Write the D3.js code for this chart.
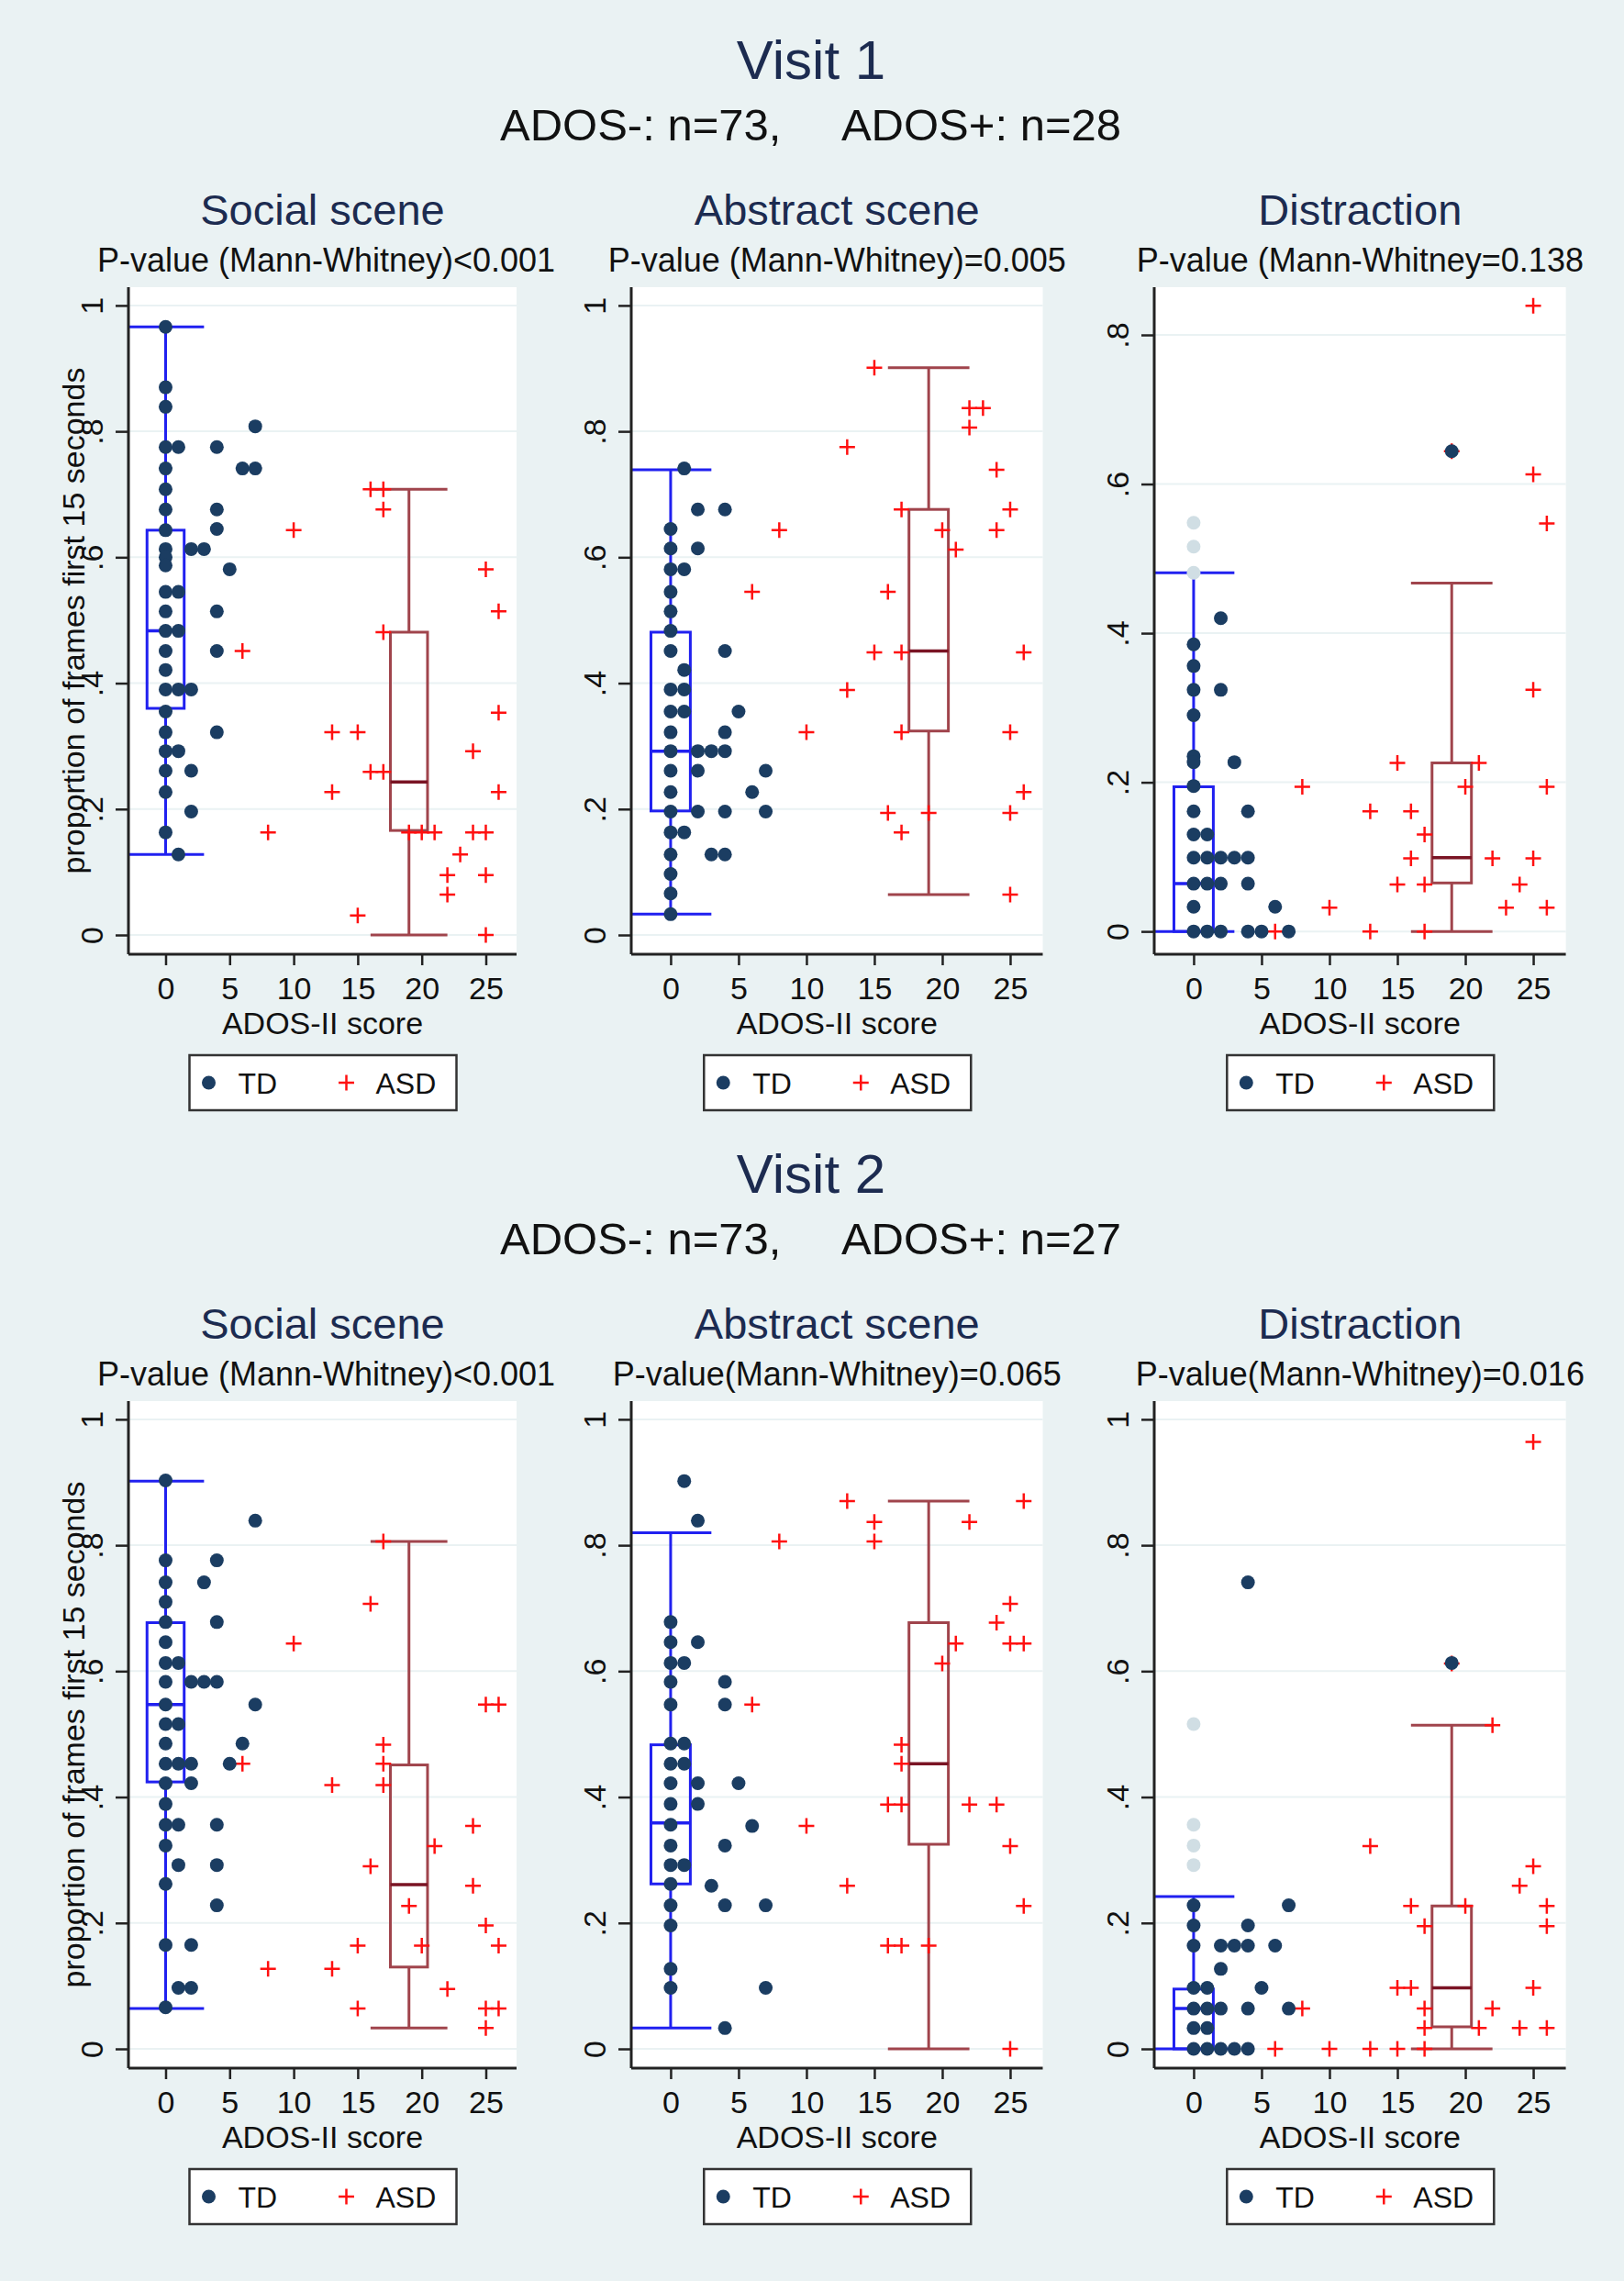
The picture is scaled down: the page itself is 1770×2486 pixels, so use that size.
<!DOCTYPE html>
<html>
<head>
<meta charset="utf-8">
<script src="https://cdn.jsdelivr.net/npm/d3@7"></script>
<style>
  body { margin: 0; background: #eaf2f3; }
  text { font-family: "Liberation Sans", Arial, sans-serif; }
</style>
</head>
<body>
<svg id="chart"></svg>
<script>
// ---- data ----
const visitTitles = ["Visit 1", "Visit 2"];
const groupCounts = [["ADOS-: n=73,", "ADOS+: n=28"], ["ADOS-: n=73,", "ADOS+: n=27"]];
const sceneTitles = ["Social scene", "Abstract scene", "Distraction"];
const pValueLabels = [
  ["P-value (Mann-Whitney)<0.001", "P-value (Mann-Whitney)=0.005", "P-value (Mann-Whitney=0.138"],
  ["P-value (Mann-Whitney)<0.001", "P-value(Mann-Whitney)=0.065", "P-value(Mann-Whitney)=0.016"]
];
const xTitle = "ADOS-II score";
const yTitle = "proportion of frames first 15 seconds";
const legendLabels = ["TD", "ASD"];
const xTicks = [0, 5, 10, 15, 20, 25];
const yTicks = [
  [[0, .2, .4, .6, .8, 1], [0, .2, .4, .6, .8, 1], [0, .2, .4, .6, .8]],
  [[0, .2, .4, .6, .8, 1], [0, .2, .4, .6, .8, 1], [0, .2, .4, .6, .8, 1]]
];
const yMax = [[1.029, 1.029, 0.864], [1.029, 1.029, 1.029]];

// box positions on the ADOS axis: TD, ASD
const boxCenters = [0, 19];
// [lower whisker, q1, median, q3, upper whisker] per scene
const tdBoxV1 = [[0.128, 0.360, 0.483, 0.643, 0.966], [0.033, 0.197, 0.292, 0.481, 0.739], [0, 0, 0.064, 0.194, 0.481]];
const asdBoxV1 = [[0, 0.166, 0.243, 0.481, 0.708], [0.064, 0.324, 0.451, 0.676, 0.901], [0, 0.065, 0.099, 0.226, 0.467]];
const tdBoxV2 = [[0.064, 0.424, 0.547, 0.677, 0.902], [0.033, 0.262, 0.359, 0.483, 0.820], [0, 0, 0.064, 0.095, 0.242]];
const asdBoxV2 = [[0.033, 0.130, 0.261, 0.451, 0.806], [0, 0.325, 0.453, 0.677, 0.870], [0, 0.035, 0.097, 0.227, 0.514]];

// TD points grouped by ADOS score: [score, [proportions]]
const tdV1Social = [
  [0, [.966, .870, .839, .775, .741, .708, .676, .643, .613, .600, .587, .545, .514, .483, .451, .421, .390, .355, .322, .292, .261, .227, .163]],
  [1, [.775, .545, .483, .390, .292, .128]],
  [2, [.613, .390, .261, .196]],
  [3, [.613]],
  [4, [.775, .676, .645, .514, .451, .322]],
  [5, [.581]],
  [6, [.741]],
  [7, [.808, .741]]
];
const tdV1Abstract = [
  [0, [.645, .614, .581, .545, .514, .483, .451, .390, .355, .322, .292, .261, .227, .196, .163, .128, .097, .066, .033]],
  [1, [.741, .581, .421, .390, .355, .163]],
  [2, [.676, .614, .292, .261, .196]],
  [3, [.292, .128]],
  [4, [.676, .451, .322, .292, .196, .128]],
  [5, [.355]],
  [6, [.227]],
  [7, [.261, .196]]
];
const tdV1Distraction = [
  [0, [.385, .356, .324, .290, .235, .227, .195, .161, .130, .099, .064, .033, 0]],
  [1, [.130, .099, .064, 0]],
  [2, [.420, .324, .099, .064, 0]],
  [3, [.227, .099]],
  [4, [.161, .099, .064, 0]],
  [5, [0]],
  [6, [.033]],
  [7, [0]],
  [19, [.644]]
];
const tdV2Social = [
  [0, [.903, .776, .741, .710, .678, .646, .613, .583, .547, .516, .485, .453, .422, .389, .356, .323, .262, .165, .066]],
  [1, [.613, .516, .453, .356, .292, .097]],
  [2, [.583, .453, .422, .165, .097]],
  [3, [.741, .583]],
  [4, [.776, .678, .583, .356, .292, .228]],
  [5, [.453]],
  [6, [.485]],
  [7, [.839, .547]]
];
const tdV2Abstract = [
  [0, [.678, .646, .613, .583, .547, .485, .453, .422, .389, .356, .323, .292, .262, .228, .196, .127, .097]],
  [1, [.902, .613, .485, .453, .292]],
  [2, [.839, .646, .422, .389]],
  [3, [.259]],
  [4, [.583, .547, .323, .228, .033]],
  [5, [.422]],
  [6, [.354]],
  [7, [.228, .097]]
];
const tdV2Distraction = [
  [0, [.228, .196, .164, .097, .064, .033, 0]],
  [1, [.097, .064, .033, 0]],
  [2, [.164, .127, .064, 0]],
  [3, [.164, 0]],
  [4, [.741, .196, .164, .064, 0]],
  [5, [.097]],
  [6, [.164]],
  [7, [.228, .064]],
  [19, [.613]]
];
// faint TD points drawn at ADOS 0 in the distraction panels
const faintV1Distraction = [[0, [.548, .516, .481]]];
const faintV2Distraction = [[0, [.516, .356, .323, .292]]];

// ASD points: [score, proportion]
const asdV1Social = [[16, .708], [17, .708], [17, .676], [10, .643], [25, .581], [26, .514], [17, .481], [6, .451], [26, .353],
  [13, .322], [15, .322], [24, .292], [16, .259], [17, .259], [13, .227], [26, .227], [8, .163], [19, .163], [20, .163],
  [21, .163], [24, .163], [25, .163], [23, .128], [22, .095], [25, .095], [22, .064], [15, .031], [25, 0]];
const asdV1Abstract = [[15, .901], [22, .837], [23, .837], [22, .806], [13, .775], [24, .739], [17, .676], [25, .676], [8, .643],
  [20, .643], [24, .643], [21, .612], [6, .545], [16, .545], [15, .449], [17, .449], [26, .449], [13, .389], [10, .322],
  [17, .322], [25, .322], [26, .227], [16, .194], [19, .194], [25, .194], [17, .163], [25, .064]];
const asdV1Distraction = [[25, .839], [25, .613], [26, .547], [25, .324], [15, .226], [21, .226], [8, .194], [20, .194], [26, .194],
  [13, .161], [16, .161], [17, .130], [16, .098], [22, .098], [25, .098], [15, .063], [17, .063], [24, .063], [10, .032],
  [23, .032], [26, .032], [6, 0], [13, 0], [17, 0], [19, .644]];
const asdV2Social = [[17, .806], [16, .707], [10, .644], [25, .547], [26, .547], [17, .483], [6, .453], [17, .453], [13, .419],
  [17, .419], [24, .354], [21, .322], [16, .290], [24, .259], [19, .227], [25, .196], [15, .164], [20, .164], [26, .164],
  [8, .127], [13, .127], [22, .095], [15, .064], [25, .064], [26, .064], [25, .033]];
const asdV2Abstract = [[13, .870], [26, .870], [15, .837], [22, .837], [8, .806], [15, .806], [25, .707], [24, .677], [21, .644],
  [25, .644], [26, .644], [20, .612], [6, .547], [17, .483], [17, .453], [16, .388], [17, .388], [22, .388], [24, .388],
  [10, .354], [25, .322], [13, .259], [26, .227], [16, .164], [17, .164], [19, .164], [25, 0]];
const asdV2Distraction = [[25, .964], [19, .612], [22, .514], [13, .322], [25, .290], [24, .259], [16, .227], [20, .227], [26, .227],
  [17, .195], [26, .195], [15, .097], [16, .097], [25, .097], [8, .064], [17, .064], [22, .064], [17, .033], [21, .033],
  [24, .033], [26, .033], [6, 0], [10, 0], [13, 0], [15, 0], [17, 0]];

const tdPoints = [[tdV1Social, tdV1Abstract, tdV1Distraction], [tdV2Social, tdV2Abstract, tdV2Distraction]];
const faintPoints = [[[], [], faintV1Distraction], [[], [], faintV2Distraction]];
const asdPoints = [[asdV1Social, asdV1Abstract, asdV1Distraction], [asdV2Social, asdV2Abstract, asdV2Distraction]];
const tdBoxes = [tdBoxV1, tdBoxV2];
const asdBoxes = [asdBoxV1, asdBoxV2];

// ---- layout ----
const W = 1770, H = 2486;
const visitOffset = [0, 1214];
const panels = [{ left: 140, right: 563 }, { left: 688, right: 1136.5 }, { left: 1258, right: 1706.6 }];
const plotTop = 313, plotBottom = 1040;
const xDomain = [-2.9, 27.4];
const yMin = -0.0306;
const boxHalf = 1.45, capHalf = 3;

const navy = "#1b3d62", red = "#ff1010", titleColor = "#1c2b50", ink = "#111";
const tdBoxColor = "#2020f0", asdBoxColor = "#a0444c", asdMedian = "#7a1424";

const svg = d3.select("#chart").attr("width", W).attr("height", H);
svg.append("rect").attr("width", W).attr("height", H).attr("fill", "#eaf2f3");

const fmt = d => d === 0 ? "0" : d === 1 ? "1" : d3.format(".1f")(d).replace(/^0/, "");

visitTitles.forEach((vt, vi) => {
  const g = svg.append("g").attr("transform", `translate(0,${visitOffset[vi]})`);

  // Visit title and group counts
  g.append("text").attr("x", 884).attr("y", 86).attr("text-anchor", "middle")
    .attr("font-size", 60).attr("fill", titleColor).text(vt);
  g.append("text").attr("x", 545).attr("y", 153).attr("font-size", 49).attr("fill", ink).text(groupCounts[vi][0]);
  g.append("text").attr("x", 1222).attr("y", 153).attr("text-anchor", "end")
    .attr("font-size", 49).attr("fill", ink).text(groupCounts[vi][1]);

  sceneTitles.forEach((st, si) => {
    const p = panels[si];
    const cx = (p.left + p.right) / 2;
    const x = d3.scaleLinear().domain(xDomain).range([p.left, p.right]);
    const y = d3.scaleLinear().domain([yMin, yMax[vi][si]]).range([plotBottom, plotTop]);
    const pg = g.append("g");

    // titles
    pg.append("text").attr("x", cx).attr("y", 245).attr("text-anchor", "middle")
      .attr("font-size", 47).attr("fill", titleColor).text(st);
    pg.append("text").attr("x", cx + (si === 0 ? 4 : 0)).attr("y", 296).attr("text-anchor", "middle")
      .attr("font-size", 36).attr("fill", ink).text(pValueLabels[vi][si]);

    // plot region
    pg.append("rect").attr("x", p.left).attr("y", plotTop)
      .attr("width", p.right - p.left).attr("height", plotBottom - plotTop).attr("fill", "#fff");

    const clipId = `clip-${vi}-${si}`;
    pg.append("clipPath").attr("id", clipId).append("rect")
      .attr("x", p.left).attr("y", plotTop).attr("width", p.right - p.left).attr("height", plotBottom - plotTop);

    // gridlines
    pg.append("g").selectAll("line").data(yTicks[vi][si]).enter().append("line")
      .attr("x1", p.left).attr("x2", p.right).attr("y1", d => y(d)).attr("y2", d => y(d))
      .attr("stroke", "#eaf2f3").attr("stroke-width", 2);

    const inner = pg.append("g").attr("clip-path", `url(#${clipId})`);

    // box plots
    const boxes = [
      { c: boxCenters[0], s: tdBoxes[vi][si], col: tdBoxColor, med: tdBoxColor },
      { c: boxCenters[1], s: asdBoxes[vi][si], col: asdBoxColor, med: asdMedian }
    ];
    boxes.forEach(b => {
      const [lo, q1, md, q3, hi] = b.s;
      const bg = inner.append("g").attr("stroke", b.col).attr("stroke-width", 3).attr("fill", "none");
      bg.append("line").attr("x1", x(b.c)).attr("x2", x(b.c)).attr("y1", y(hi)).attr("y2", y(q3));
      bg.append("line").attr("x1", x(b.c)).attr("x2", x(b.c)).attr("y1", y(q1)).attr("y2", y(lo));
      bg.append("line").attr("x1", x(b.c - capHalf)).attr("x2", x(b.c + capHalf)).attr("y1", y(hi)).attr("y2", y(hi));
      bg.append("line").attr("x1", x(b.c - capHalf)).attr("x2", x(b.c + capHalf)).attr("y1", y(lo)).attr("y2", y(lo));
      bg.append("rect").attr("x", x(b.c - boxHalf)).attr("y", y(q3))
        .attr("width", x(b.c + boxHalf) - x(b.c - boxHalf)).attr("height", y(q1) - y(q3));
      bg.append("line").attr("x1", x(b.c - boxHalf)).attr("x2", x(b.c + boxHalf))
        .attr("y1", y(md)).attr("y2", y(md)).attr("stroke", b.med).attr("stroke-width", 3.5);
    });

    // ASD markers
    inner.append("g").selectAll("path").data(asdPoints[vi][si]).enter().append("path")
      .attr("d", d => `M${x(d[0]) - 8.5},${y(d[1])}H${x(d[0]) + 8.5}M${x(d[0])},${y(d[1]) - 8.5}V${y(d[1]) + 8.5}`)
      .attr("stroke", red).attr("stroke-width", 2.5).attr("fill", "none");

    // TD markers
    const flat = arr => arr.flatMap(([s, vals]) => vals.map(v => [s, v]));
    inner.append("g").selectAll("circle").data(flat(tdPoints[vi][si])).enter().append("circle")
      .attr("cx", d => x(d[0])).attr("cy", d => y(d[1])).attr("r", 7.5).attr("fill", navy);
    inner.append("g").selectAll("circle").data(flat(faintPoints[vi][si])).enter().append("circle")
      .attr("cx", d => x(d[0])).attr("cy", d => y(d[1])).attr("r", 7.5).attr("fill", "#d0dee4");

    // axes
    const xAxis = pg.append("g").attr("transform", `translate(0,${plotBottom})`)
      .call(d3.axisBottom(x).tickValues(xTicks).tickSize(12).tickSizeOuter(0).tickPadding(13));
    xAxis.selectAll("text").attr("font-size", 34).attr("fill", ink)
      .attr("font-family", "Liberation Sans, Arial, sans-serif");

    const yAxis = pg.append("g").attr("transform", `translate(${p.left},0)`)
      .call(d3.axisLeft(y).tickValues(yTicks[vi][si]).tickFormat(fmt).tickSize(14).tickSizeOuter(0));
    yAxis.selectAll("text").attr("x", 0).attr("dy", 0).attr("text-anchor", "middle")
      .attr("transform", "translate(-28,0) rotate(-90)")
      .attr("font-size", 34).attr("fill", ink).attr("font-family", "Liberation Sans, Arial, sans-serif");

    [xAxis, yAxis].forEach(a => {
      a.select(".domain").attr("stroke", "#222").attr("stroke-width", 3);
      a.selectAll(".tick line").attr("stroke", "#222").attr("stroke-width", 2.5);
    });
    // keep the axis line running to the plot edges
    xAxis.select(".domain").attr("d", `M${p.left},0H${p.right}`);
    yAxis.select(".domain").attr("d", `M0,${plotTop}V${plotBottom}`);

    // axis titles
    pg.append("text").attr("x", cx).attr("y", 1127).attr("text-anchor", "middle")
      .attr("font-size", 34).attr("fill", ink).text(xTitle);
    if (si === 0) {
      pg.append("text").attr("transform", `translate(92,${(plotTop + plotBottom) / 2}) rotate(-90)`)
        .attr("text-anchor", "middle").attr("font-size", 34).attr("fill", ink).text(yTitle);
    }

    // legend
    const lg = pg.append("g").attr("transform", `translate(${cx},1150)`);
    lg.append("rect").attr("x", -145).attr("y", 0).attr("width", 291).attr("height", 60)
      .attr("fill", "#fff").attr("stroke", "#333").attr("stroke-width", 2.5);
    lg.append("circle").attr("cx", -124).attr("cy", 30).attr("r", 7.5).attr("fill", navy);
    lg.append("text").attr("x", -92).attr("y", 42).attr("font-size", 32).attr("fill", ink).text(legendLabels[0]);
    lg.append("path").attr("d", "M17.5,30H34.5M26,21.5V38.5").attr("stroke", red).attr("stroke-width", 2.5);
    lg.append("text").attr("x", 58).attr("y", 42).attr("font-size", 32).attr("fill", ink).text(legendLabels[1]);
  });
});
</script>
</body>
</html>
